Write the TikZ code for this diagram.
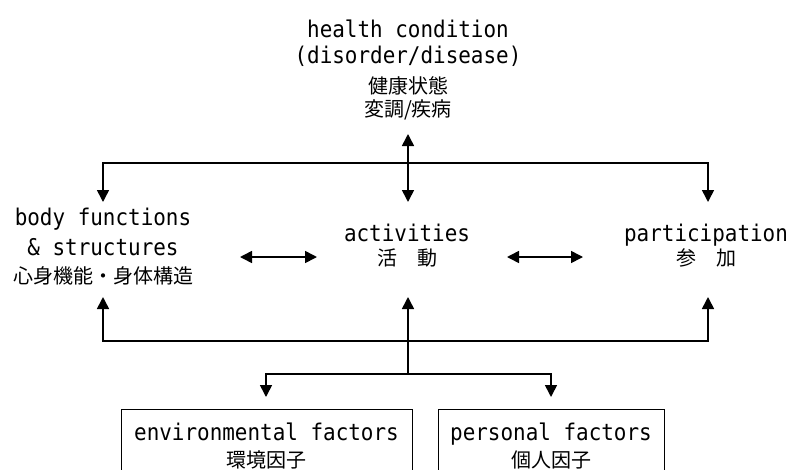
\documentclass[tikz,border=0pt]{standalone}
\usepackage{fontspec}
\setmonofont{DejaVu Sans Mono}[FakeStretch=0.91]
\newfontfamily\jpfont{Noto Sans CJK JP}
\usetikzlibrary{arrows.meta}

\newcommand\ja[1]{{\jpfont\fontsize{20}{23}\selectfont #1}}

\begin{document}
\begin{tikzpicture}[x=1pt,y=-1pt,
  word/.style={align=center,inner sep=0pt,anchor=base,
    font=\ttfamily\fontsize{23}{23}\selectfont},
  factor/.style={word,draw,line width=1pt,inner xsep=0pt,inner ysep=13.5pt,
    anchor=north},
  link/.style={line width=1.6pt},
  arrowed/.style={link,-{Triangle[length=12pt,width=12pt]}},
  twoway/.style={link,{Triangle[length=12pt,width=12pt]}-{Triangle[length=12pt,width=12pt]}}]
\useasboundingbox (0,0) rectangle (792,469);

% labels (anchored at the baseline of the last line)
\node[word] (hc) at (408,116.5) {health condition\\[3pt](disorder/disease)\\[7.5pt]\ja{健康状態}\\\ja{変調/疾病}};
\node[word] (body) at (103,283.5) {body functions\\[7pt]\& structures\\[5pt]\ja{心身機能・身体構造}};
\node[word] (act) at (407,265.5) {activities\\[1.5pt]\ja{活　動}};
\node[word] (part) at (706,265.5) {participation\\[1.5pt]\ja{参　加}};
\node[factor,minimum width=291pt] (env) at (266.5,409) {environmental factors\\[3.5pt]\ja{環境因子}};
\node[factor,minimum width=226pt] (pers) at (551,409) {personal factors\\[3.5pt]\ja{個人因子}};

% junctions
\coordinate (hc-s) at (408,134);
\coordinate (top-l) at (103,163);
\coordinate (top-r) at (708,163);
\coordinate (body-n) at (103,202);
\coordinate (act-n) at (408,202);
\coordinate (part-n) at (708,202);
\coordinate (body-s) at (103,297);
\coordinate (act-s) at (408,297);
\coordinate (part-s) at (708,297);
\coordinate (bot-l) at (103,341);
\coordinate (bot-r) at (708,341);
\coordinate (split) at (408,374);
\coordinate (split-l) at (266,374);
\coordinate (split-r) at (551,374);
\coordinate (env-n) at (266,397);
\coordinate (pers-n) at (551,397);

% connectors
\draw[twoway] (hc-s) -- (act-n);
\draw[arrowed] (top-l -| act-n) -- (top-l) -- (body-n);
\draw[arrowed] (top-r -| act-n) -- (top-r) -- (part-n);
\draw[twoway] (240,257) coordinate (ba-l) -- (317,257) coordinate (ba-r);
\draw[twoway] (507,257) coordinate (ap-l) -- (583,257) coordinate (ap-r);
\draw[arrowed] (bot-l -| act-s) -- (bot-l) -- (body-s);
\draw[arrowed] (bot-r -| act-s) -- (bot-r) -- (part-s);
\draw[arrowed] (split) -- (act-s);
\draw[arrowed] (split) -- (split-l) -- (env-n);
\draw[arrowed] (split) -- (split-r) -- (pers-n);
\end{tikzpicture}
\end{document}
